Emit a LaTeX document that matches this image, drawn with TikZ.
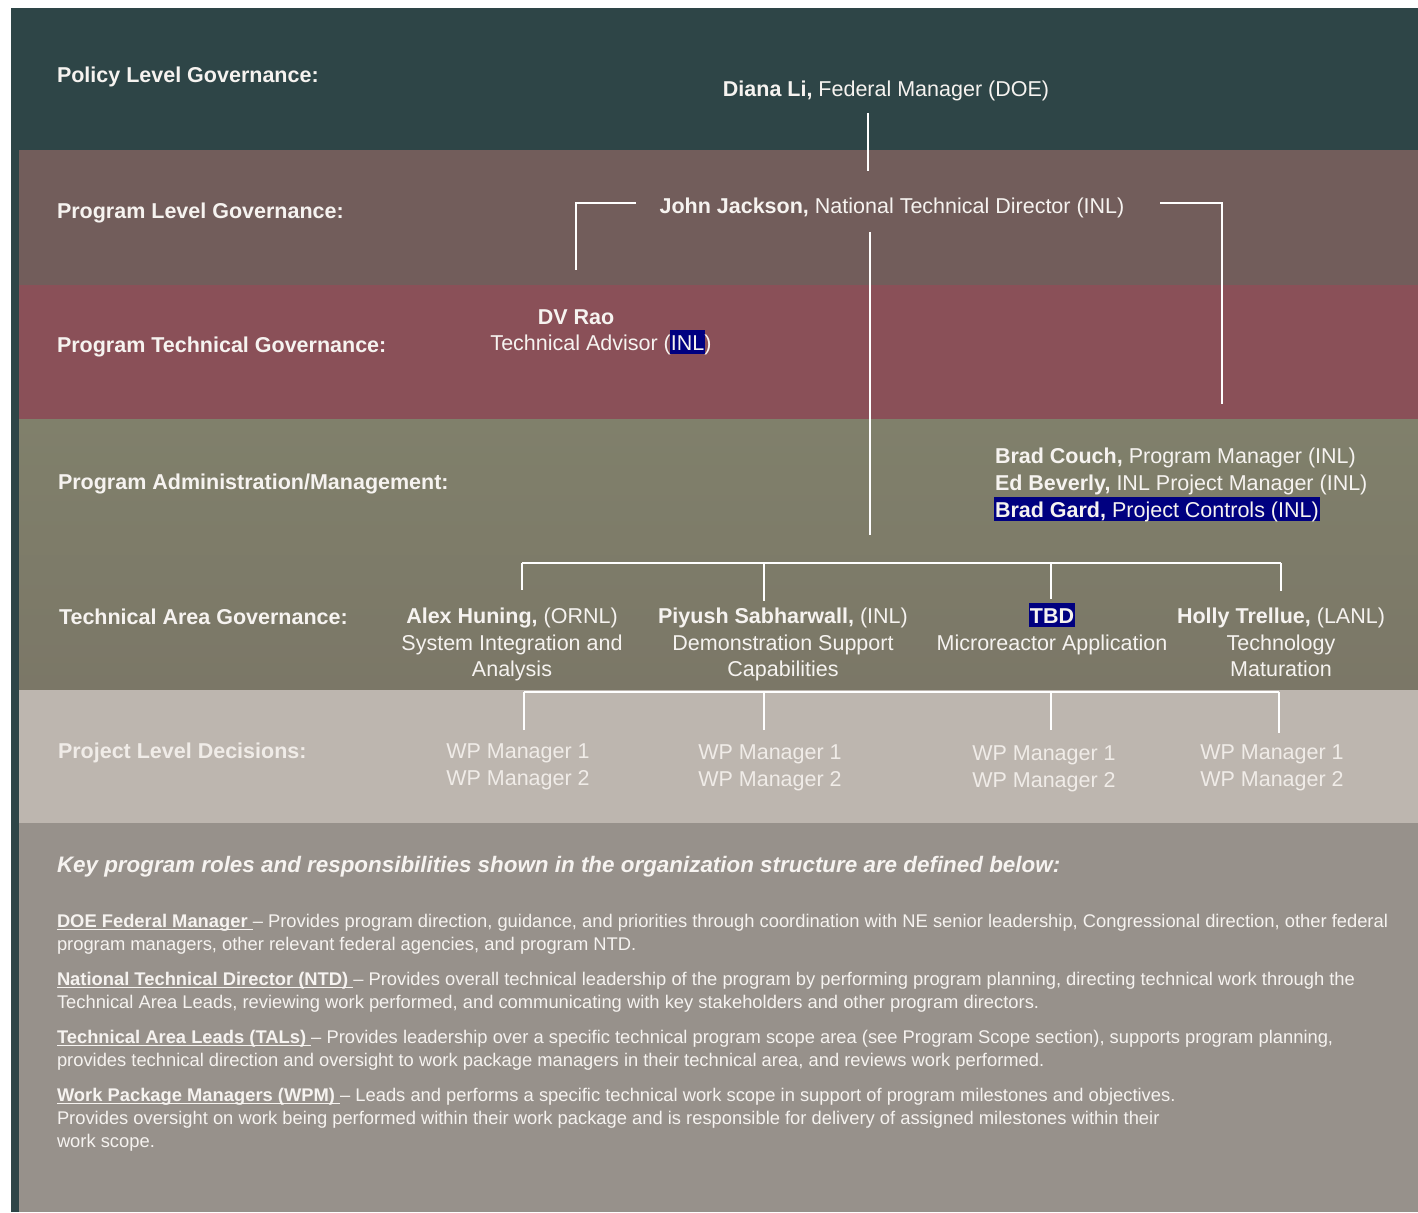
\documentclass[tikz,border=0pt]{standalone}
\usepackage{fontspec}
\setmainfont{Liberation Sans}
\definecolor{bgteal}{HTML}{2E4547}
\definecolor{bandprog}{HTML}{725D5B}
\definecolor{bandtech}{HTML}{8A5058}
\definecolor{bandadmin}{HTML}{80806B}
\definecolor{bandarea}{HTML}{7B7767}
\definecolor{bandproj}{HTML}{BDB6AF}
\definecolor{bandkey}{HTML}{97918B}
\definecolor{hlnavy}{HTML}{000080}
\definecolor{txtw}{HTML}{F6F3F0}
\definecolor{txtwp}{HTML}{F0ECE8}
\newcommand\hlnavy[1]{\setbox0\hbox{#1}\leavevmode\rlap{\hskip-1pt\color{hlnavy}\rule[-4pt]{\dimexpr\wd0+2pt\relax}{24pt}}\box0}
\newcommand\myul[1]{\setbox0\hbox{#1}\leavevmode\rlap{\rule[-2.6pt]{\wd0}{1.1pt}}\box0}
\newcommand\bigfont{\fontsize{21.5}{27}\selectfont}
\newcommand\parfont{\fontsize{18.35}{23}\selectfont}
\begin{document}
\begin{tikzpicture}[x=1pt,y=-1pt,
  every node/.style={inner sep=0pt,outer sep=0pt},
  lbl/.style={anchor=base west,text=txtw,font=\bigfont\bfseries},
  txt/.style={anchor=base,text=txtw,font=\bigfont},
  txtl/.style={anchor=base west,text=txtw,font=\bigfont},
  wp/.style={anchor=base,text=txtwp,font=\bigfont},
  para/.style={anchor=base west,text=txtw,font=\parfont},
  conn/.style={draw=white,line width=1.6pt}]
\useasboundingbox (0,0) rectangle (1418,1212);
% background bands
\fill[white] (0,0) rectangle (1418,1212);
\fill[bgteal] (11,8) rectangle (1418,1212);
\fill[bandprog] (19,150) rectangle (1418,285);
\fill[bandtech] (19,285) rectangle (1418,419);
\shade[top color=bandadmin,bottom color=bandarea] (19,419) rectangle (1418,690);
\fill[bandproj] (19,690) rectangle (1418,823);
\fill[bandkey] (19,823) rectangle (1418,1212);

% level labels
\node[lbl] (lpolicy) at (57,83) {Policy Level Governance:};
\node[lbl] (lprog) at (57,218) {Program Level Governance:};
\node[lbl] (lptech) at (57,352) {Program Technical Governance:};
\node[lbl] (ladmin) at (58,489) {Program Administration/Management:};
\node[lbl] (larea) at (59,624) {Technical Area Governance:};
\node[lbl,text=txtwp] (lproj) at (58,758) {Project Level Decisions:};

% people
\node[txt] (diana) at (886,97) {\textbf{Diana Li,} Federal Manager (DOE)};
\node[txt] (john) at (892,213) {\textbf{John Jackson,} National Technical Director (INL)};
\node[txt] (dvrao) at (576,324) {\textbf{DV Rao}};
\node[txt] (dvrao2) at (601,350) {Technical Advisor (\hlnavy{INL})};
\node[txtl] (admin1) at (995,463) {\textbf{Brad Couch,} Program Manager (INL)};
\node[txtl] (admin2) at (995,490) {\textbf{Ed Beverly,} INL Project Manager (INL)};
\node[txtl] (admin3) at (995,517) {\hlnavy{\textbf{Brad Gard,} Project Controls (INL)}};

\node[txt] (alex) at (512,623) {\textbf{Alex Huning,} (ORNL)};
\node[txt] (alex2) at (512,650) {System Integration and};
\node[txt] (alex3) at (512,676) {Analysis};
\node[txt] (piyush) at (783,623) {\textbf{Piyush Sabharwall,} (INL)};
\node[txt] (piyush2) at (783,650) {Demonstration Support};
\node[txt] (piyush3) at (783,676) {Capabilities};
\node[txt] (tbd) at (1052,623) {\hlnavy{\textbf{TBD}}};
\node[txt] (tbd2) at (1052,650) {Microreactor Application};
\node[txt] (holly) at (1281,623) {\textbf{Holly Trellue,} (LANL)};
\node[txt] (holly2) at (1281,650) {Technology};
\node[txt] (holly3) at (1281,676) {Maturation};

\node[wp] (wpa1) at (518,758) {WP Manager 1};
\node[wp] (wpa2) at (518,785) {WP Manager 2};
\node[wp] (wpb1) at (770,759) {WP Manager 1};
\node[wp] (wpb2) at (770,786) {WP Manager 2};
\node[wp] (wpc1) at (1044,760) {WP Manager 1};
\node[wp] (wpc2) at (1044,787) {WP Manager 2};
\node[wp] (wpd1) at (1272,759) {WP Manager 1};
\node[wp] (wpd2) at (1272,786) {WP Manager 2};

% connector coordinates
\coordinate (dianaDown) at (868,113);
\coordinate (dianaEnd) at (868,171);
\coordinate (johnDown) at (870,232);
\coordinate (johnEnd) at (870,535);
\coordinate (jl1) at (636,203);
\coordinate (jl2) at (576,203);
\coordinate (jl3) at (576,270);
\coordinate (jr1) at (1160,203);
\coordinate (jr2) at (1222,203);
\coordinate (jr3) at (1222,404);
\coordinate (ta) at (522,563);
\coordinate (tb) at (764,563);
\coordinate (tc) at (1051,563);
\coordinate (td) at (1281,563);
\coordinate (tae) at (522,590);
\coordinate (tbe) at (764,601);
\coordinate (tce) at (1051,599);
\coordinate (tde) at (1281,591);
\coordinate (wa) at (524,692);
\coordinate (wb) at (764,692);
\coordinate (wc) at (1051,692);
\coordinate (wd) at (1279,692);
\coordinate (wae) at (524,730);
\coordinate (wbe) at (764,730);
\coordinate (wce) at (1051,730);
\coordinate (wde) at (1279,733);

\draw[conn] (dianaDown) -- (dianaEnd);
\draw[conn] (johnDown) -- (johnEnd);
\draw[conn] (jl1) -- (jl2) -- (jl3);
\draw[conn] (jr1) -- (jr2) -- (jr3);
\draw[conn] (ta) -- (td);
\draw[conn] (ta) -- (tae);
\draw[conn] (tb) -- (tbe);
\draw[conn] (tc) -- (tce);
\draw[conn] (td) -- (tde);
\draw[conn] (wa) -- (wd);
\draw[conn] (wa) -- (wae);
\draw[conn] (wb) -- (wbe);
\draw[conn] (wc) -- (wce);
\draw[conn] (wd) -- (wde);

% key
\node[lbl,font=\fontsize{22.4}{27}\selectfont\bfseries\itshape] (keyhead) at (57,872) {Key program roles and responsibilities shown in the organization structure are defined below:};
\node[para] (p1a) at (57,927) {\myul{\textbf{DOE Federal Manager}\ }– Provides program direction, guidance, and priorities through coordination with NE senior leadership, Congressional direction, other federal};
\node[para] (p1b) at (57,950) {program managers, other relevant federal agencies, and program NTD.};
\node[para] (p2a) at (57,985) {\myul{\textbf{National Technical Director (NTD)}\ }– Provides overall technical leadership of the program by performing program planning, directing technical work through the};
\node[para] (p2b) at (57,1008) {Technical Area Leads, reviewing work performed, and communicating with key stakeholders and other program directors.};
\node[para] (p3a) at (57,1043) {\myul{\textbf{Technical Area Leads (TALs)}\ }– Provides leadership over a specific technical program scope area (see Program Scope section), supports program planning,};
\node[para] (p3b) at (57,1066) {provides technical direction and oversight to work package managers in their technical area, and reviews work performed.};
\node[para] (p4a) at (57,1101) {\myul{\textbf{Work Package Managers (WPM)}\ }– Leads and performs a specific technical work scope in support of program milestones and objectives.};
\node[para] (p4b) at (57,1124) {Provides oversight on work being performed within their work package and is responsible for delivery of assigned milestones within their};
\node[para] (p4c) at (57,1147) {work scope.};
\end{tikzpicture}
\end{document}
